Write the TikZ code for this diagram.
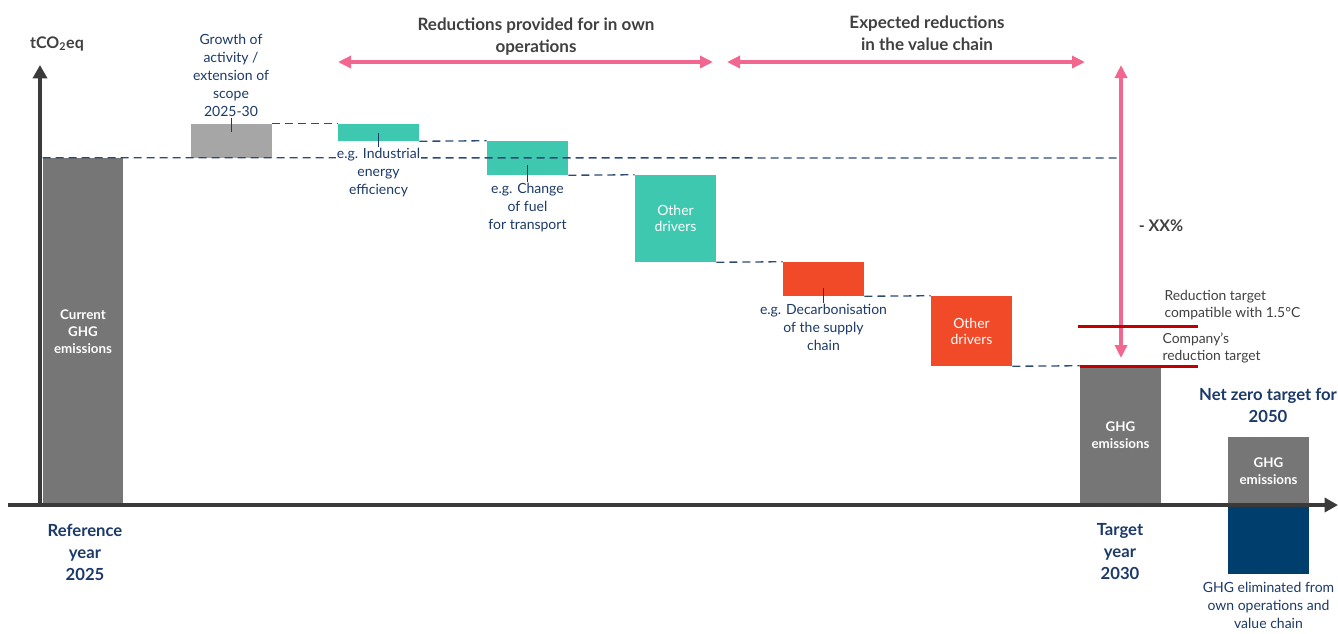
\documentclass[tikz,border=0pt]{standalone}
\usepackage{fontspec}
\setmainfont{Lato}
\usepackage{tikz}
\usetikzlibrary{positioning,arrows.meta}
\pgfdeclarelayer{barlayer}
\pgfdeclarelayer{textlayer}
\pgfsetlayers{barlayer,main,textlayer}
\definecolor{axisGray}{HTML}{3A3A3A}
\definecolor{barGray}{HTML}{767676}
\definecolor{growGray}{HTML}{A6A6A6}
\definecolor{ownGreen}{HTML}{3EC8AF}
\definecolor{chainRed}{HTML}{F04A29}
\definecolor{targetRed}{HTML}{C00000}
\definecolor{gapPink}{HTML}{F2678F}
\definecolor{navyBar}{HTML}{003E6E}
\definecolor{navyText}{HTML}{1C3A69}
\definecolor{dashBlue}{HTML}{2C4A75}
\definecolor{titleGray}{HTML}{404040}
\tikzstyle{bar}=[rectangle, inner sep=0pt, minimum width=60.75pt]
\tikzstyle{barText}=[text=white, align=center, font=\fontsize{10}{12.75}\selectfont\bfseries]
\tikzstyle{driverText}=[text=white, align=center, font=\fontsize{10.5}{12}\selectfont]
\tikzstyle{lbl}=[text=navyText, align=center, fill=white, inner sep=1pt, font=\fontsize{10.5}{13.5}\selectfont]
\tikzstyle{yearLbl}=[text=navyText, align=center, font=\fontsize{12.5}{16.5}\selectfont\bfseries]
\tikzstyle{title}=[text=titleGray, align=center, font=\fontsize{12.75}{16.5}\selectfont\bfseries]
\tikzstyle{note}=[text=titleGray, align=left, anchor=west, inner sep=1pt, font=\fontsize{10.4}{12.75}\selectfont]
\tikzstyle{dashLink}=[dashBlue, line width=1pt, dash pattern=on 6pt off 3.75pt]
\tikzstyle{tick}=[navyText, line width=0.75pt]
\tikzstyle{axisArrow}=[-{Triangle[length=10pt,width=10.5pt]}, axisGray, line width=3.3pt]
\tikzstyle{pinkArrow}=[{Triangle[length=9.75pt,width=9pt]}-{Triangle[length=9.75pt,width=9pt]}, gapPink, line width=3pt]
\tikzstyle{targetLine}=[targetRed, line width=2.25pt]

\begin{document}
\begin{tikzpicture}[x=0.75pt, y=-0.75pt]
    \useasboundingbox (0,0) rectangle (1338,633);
    \begin{pgfonlayer}{barlayer}
        \node [style=bar, fill=barGray, minimum width=60pt, minimum height=260.25pt, style=barText] (current) at (83,331.5) {Current\\GHG\\emissions};
        \node [style=bar, fill=growGray, minimum height=25.5pt] (growth) at (231,141) {};
        \node [style=bar, fill=ownGreen, minimum height=12.75pt] (ind) at (378.5,132.5) {};
        \node [style=bar, fill=ownGreen, minimum height=25.5pt] (fuel) at (527.5,158) {};
        \node [style=bar, fill=ownGreen, minimum height=65.25pt, style=driverText] (otherOwn) at (675.5,218.5) {Other\\drivers};
        \node [style=bar, fill=chainRed, minimum height=25.5pt] (decarb) at (823.5,279) {};
        \node [style=bar, fill=chainRed, minimum height=52.5pt, style=driverText] (otherChain) at (971.5,331) {Other\\drivers};
        \node [style=bar, fill=barGray, minimum height=104.25pt, style=barText] (target) at (1120.5,435.5) {GHG\\emissions};
        \node [style=bar, fill=barGray, minimum height=51pt, style=barText] (nzGhg) at (1268.5,471) {GHG\\emissions};
        \node [style=bar, fill=navyBar, minimum height=51.75pt] (nzRemoved) at (1268.5,539.5) {};
    \end{pgfonlayer}

    % axes
    \coordinate (xStart) at (8,505);
    \coordinate (xEnd) at (1338,505);
    \coordinate (yStart) at (40,507);
    \coordinate (yEnd) at (40,65);
    \draw [style=axisArrow] (xStart) -- (xEnd);
    \draw [style=axisArrow] (yStart) -- (yEnd);
    \node [text=titleGray, font=\fontsize{12}{14}\selectfont\bfseries] (unit) at (57,44) {tCO\textsubscript{2}eq};

    % waterfall steps
    \coordinate (refEnd) at (1120,158);
    \draw [style=dashLink] (current.north west) -- (refEnd);
    \draw [style=dashLink] (growth.north east) -- (ind.north west);
    \draw [style=dashLink] (ind.south east) -- (fuel.north west);
    \draw [style=dashLink] (fuel.south east) -- (otherOwn.north west);
    \draw [style=dashLink] (otherOwn.south east) -- (decarb.north west);
    \draw [style=dashLink] (decarb.south east) -- (otherChain.north west);
    \draw [style=dashLink] (otherChain.south east) -- (target.north west);

    \begin{pgfonlayer}{textlayer}
        \node [style=lbl, above=4pt of growth] (growthLbl) {Growth of\\activity /\\extension of\\scope\\2025-30};
        \node [style=lbl, below=4pt of ind] (indLbl) {e.g. Industrial\\energy\\efficiency};
        \node [style=lbl, below=5pt of fuel] (fuelLbl) {e.g. Change\\of fuel\\for transport};
        \node [style=lbl, below=5pt of decarb] (decarbLbl) {e.g. Decarbonisation\\of the supply\\chain};
        \node [style=lbl, below=5pt of nzRemoved] (removedLbl) {GHG eliminated from\\own operations and\\value chain};
    \end{pgfonlayer}
    \draw [style=tick] (growthLbl.south) -- ([yshift=-6.5pt]growth.north);
    \draw [style=tick] (ind.center) -- (indLbl.north);
    \draw [style=tick] ([yshift=-5.5pt]fuel.center) -- (fuelLbl.north);
    \draw [style=tick] ([yshift=-6.5pt]decarb.center) -- (decarbLbl.north);

    % ranges
    \node [style=title] (ownTitle) at (536,37) {Reductions provided for in own\\operations};
    \node [style=title] (chainTitle) at (927,33) {Expected reductions\\in the value chain};
    \coordinate (ownWest) at (338,62);
    \coordinate (ownEast) at (713,62);
    \coordinate (chainWest) at (727,62);
    \coordinate (chainEast) at (1085,62);
    \draw [style=pinkArrow] (ownWest) -- (ownEast);
    \draw [style=pinkArrow] (chainWest) -- (chainEast);

    % targets
    \coordinate (gapTop) at (1121,65);
    \coordinate (gapBottom) at (1121,358);
    \draw [style=pinkArrow] (gapTop) -- (gapBottom);
    \node [text=titleGray, font=\fontsize{12}{14}\selectfont\bfseries] (gap) at (1161,226) {- XX\%};
    \coordinate (paris West) at (1078,326);
    \coordinate (paris East) at (1198,326);
    \coordinate (own West) at (1080,366);
    \coordinate (own East) at (1198,366);
    \draw [style=targetLine] (paris West) -- (paris East);
    \draw [style=targetLine] (own West) -- (own East);
    \node [style=note] (parisLbl) at (1163,305) {Reduction target\\compatible with 1.5°C};
    \node [style=note] (companyLbl) at (1161,348) {Company’s\\reduction target};

    % years
    \node [style=yearLbl] (refYear) at (85,552) {Reference\\year\\2025};
    \node [style=yearLbl] (targetYear) at (1120,552) {Target\\year\\2030};
    \node [style=yearLbl] (nzTitle) at (1268,405) {Net zero target for\\2050};
\end{tikzpicture}
\end{document}
